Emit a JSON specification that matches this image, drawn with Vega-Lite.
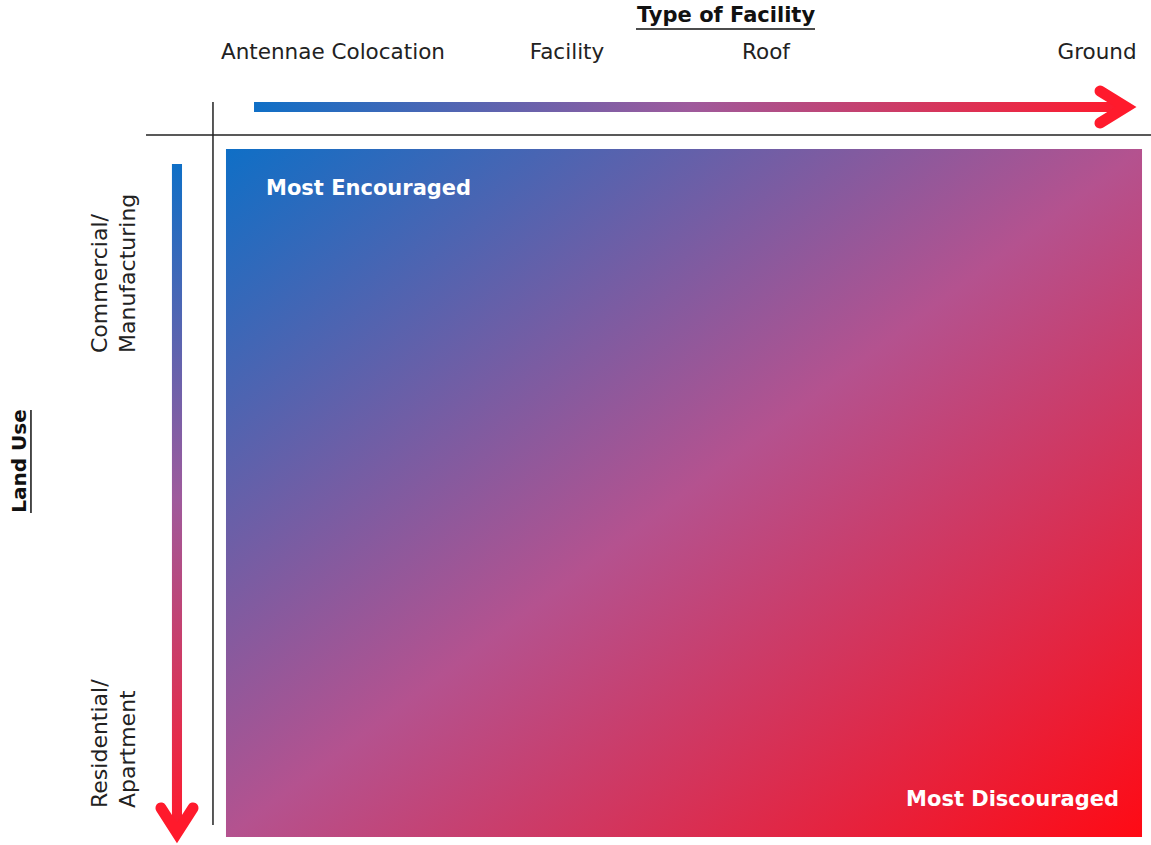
{
  "$schema": "https://vega.github.io/schema/vega-lite/v6.json",
  "autosize": {"type": "none"},
  "width": 1151,
  "height": 845,
  "padding": 0,
  "background": "white",
  "config": {"view": {"stroke": null}},
  "datasets": {
    "box": [{"x0": 0, "x1": 100, "y0": 0, "y1": 100}],
    "hbar": [{"x0": 3.06, "x1": 98.0, "y0": -6.83, "y1": -5.38}],
    "vbar": [{"x0": -5.90, "x1": -4.80, "y0": 2.18, "y1": 99.2}],
    "heads": [
      {"arrow": "h", "seq": 1, "x": 95.41, "y": -8.43},
      {"arrow": "h", "seq": 2, "x": 98.25, "y": -6.10},
      {"arrow": "h", "seq": 3, "x": 95.41, "y": -3.78},
      {"arrow": "v", "seq": 1, "x": -7.10, "y": 95.78},
      {"arrow": "v", "seq": 2, "x": -5.35, "y": 99.42},
      {"arrow": "v", "seq": 3, "x": -3.60, "y": 95.78}
    ],
    "axes": [
      {"x0": -8.73, "x1": 100.98, "y0": -2.03, "y1": -2.03},
      {"x0": -1.42, "x1": -1.42, "y0": -6.83, "y1": 98.26}
    ],
    "underlines": [
      {"x0": 44.76, "x1": 64.30, "y0": -17.44, "y1": -17.44},
      {"x0": -21.29, "x1": -21.29, "y0": 37.94, "y1": 52.91}
    ],
    "facility": [
      {"label": "Antennae Colocation", "x": 11.68, "y": -13.95},
      {"label": "Facility", "x": 37.23, "y": -13.95},
      {"label": "Roof", "x": 58.95, "y": -13.95},
      {"label": "Ground", "x": 95.09, "y": -13.95}
    ],
    "landuse": [
      {"label": "Commercial/", "x": -13.76, "y": 29.65},
      {"label": "Manufacturing", "x": -10.70, "y": 29.65},
      {"label": "Residential/", "x": -13.76, "y": 95.78},
      {"label": "Apartment", "x": -10.70, "y": 95.78}
    ],
    "titleTop": [{"label": "Type of Facility", "x": 54.59, "y": -19.35}],
    "titleLeft": [{"label": "Land Use", "x": -22.5, "y": 45.35}],
    "corners": [
      {"label": "Most Encouraged", "x": 4.37, "y": 5.81, "side": "left"},
      {"label": "Most Discouraged", "x": 97.49, "y": 94.65, "side": "right"}
    ]
  },
  "layer": [
    {
      "data": {"name": "box"},
      "mark": {"type": "rect", "fill": {"gradient": "linear", "x1": 0, "y1": 0, "x2": 1, "y2": 1,
        "stops": [{"offset": 0, "color": "#0F6FC6"}, {"offset": 0.5, "color": "#B4528F"}, {"offset": 1, "color": "#FF0A14"}]}},
      "encoding": {
        "x": {"field": "x0", "type": "quantitative", "scale": {"domain": [-24.67, 100.98], "nice": false, "zero": false}, "axis": null},
        "x2": {"field": "x1"},
        "y": {"field": "y0", "type": "quantitative", "scale": {"domain": [-21.66, 101.16], "nice": false, "zero": false, "reverse": true}, "axis": null},
        "y2": {"field": "y1"}
      }
    },
    {
      "data": {"name": "hbar"},
      "mark": {"type": "rect", "fill": {"gradient": "linear", "x1": 0, "y1": 0, "x2": 1, "y2": 0,
        "stops": [{"offset": 0, "color": "#0F6FC6"}, {"offset": 0.5, "color": "#9E5A9C"}, {"offset": 1, "color": "#FF1A2C"}]}},
      "encoding": {
        "x": {"field": "x0", "type": "quantitative"},
        "x2": {"field": "x1"},
        "y": {"field": "y0", "type": "quantitative"},
        "y2": {"field": "y1"}
      }
    },
    {
      "data": {"name": "vbar"},
      "mark": {"type": "rect", "fill": {"gradient": "linear", "x1": 0, "y1": 0, "x2": 0, "y2": 1,
        "stops": [{"offset": 0, "color": "#0F6FC6"}, {"offset": 0.5, "color": "#9E5A9C"}, {"offset": 1, "color": "#FF1A2C"}]}},
      "encoding": {
        "x": {"field": "x0", "type": "quantitative"},
        "x2": {"field": "x1"},
        "y": {"field": "y0", "type": "quantitative"},
        "y2": {"field": "y1"}
      }
    },
    {
      "data": {"name": "heads"},
      "mark": {"type": "line", "color": "#FF1A2C", "strokeWidth": 11, "strokeCap": "round", "strokeJoin": "miter"},
      "encoding": {
        "x": {"field": "x", "type": "quantitative"},
        "y": {"field": "y", "type": "quantitative"},
        "detail": {"field": "arrow"},
        "order": {"field": "seq"}
      }
    },
    {
      "data": {"name": "axes"},
      "mark": {"type": "rule", "color": "#222222", "strokeWidth": 1.5},
      "encoding": {
        "x": {"field": "x0", "type": "quantitative"},
        "x2": {"field": "x1"},
        "y": {"field": "y0", "type": "quantitative"},
        "y2": {"field": "y1"}
      }
    },
    {
      "data": {"name": "underlines"},
      "mark": {"type": "rule", "color": "#111111", "strokeWidth": 1.5},
      "encoding": {
        "x": {"field": "x0", "type": "quantitative"},
        "x2": {"field": "x1"},
        "y": {"field": "y0", "type": "quantitative"},
        "y2": {"field": "y1"}
      }
    },
    {
      "data": {"name": "facility"},
      "mark": {"type": "text", "font": "DejaVu Sans", "fontSize": 21.5, "color": "#222222", "align": "center", "baseline": "middle"},
      "encoding": {
        "x": {"field": "x", "type": "quantitative"},
        "y": {"field": "y", "type": "quantitative"},
        "text": {"field": "label"}
      }
    },
    {
      "data": {"name": "landuse"},
      "mark": {"type": "text", "font": "DejaVu Sans", "fontSize": 22, "color": "#222222", "align": "left", "baseline": "middle", "angle": 270},
      "encoding": {
        "x": {"field": "x", "type": "quantitative"},
        "y": {"field": "y", "type": "quantitative"},
        "text": {"field": "label"}
      }
    },
    {
      "data": {"name": "titleTop"},
      "mark": {"type": "text", "font": "DejaVu Sans", "fontSize": 21, "fontWeight": "bold", "color": "#111111", "align": "center", "baseline": "middle"},
      "encoding": {
        "x": {"field": "x", "type": "quantitative"},
        "y": {"field": "y", "type": "quantitative"},
        "text": {"field": "label"}
      }
    },
    {
      "data": {"name": "titleLeft"},
      "mark": {"type": "text", "font": "DejaVu Sans", "fontSize": 20, "fontWeight": "bold", "color": "#111111", "align": "center", "baseline": "middle", "angle": 270},
      "encoding": {
        "x": {"field": "x", "type": "quantitative"},
        "y": {"field": "y", "type": "quantitative"},
        "text": {"field": "label"}
      }
    },
    {
      "data": {"name": "corners"},
      "transform": [{"filter": "datum.side === 'left'"}],
      "mark": {"type": "text", "font": "DejaVu Sans", "fontSize": 21, "fontWeight": "bold", "color": "white", "align": "left", "baseline": "middle"},
      "encoding": {
        "x": {"field": "x", "type": "quantitative"},
        "y": {"field": "y", "type": "quantitative"},
        "text": {"field": "label"}
      }
    },
    {
      "data": {"name": "corners"},
      "transform": [{"filter": "datum.side === 'right'"}],
      "mark": {"type": "text", "font": "DejaVu Sans", "fontSize": 21, "fontWeight": "bold", "color": "white", "align": "right", "baseline": "middle"},
      "encoding": {
        "x": {"field": "x", "type": "quantitative"},
        "y": {"field": "y", "type": "quantitative"},
        "text": {"field": "label"}
      }
    }
  ]
}
